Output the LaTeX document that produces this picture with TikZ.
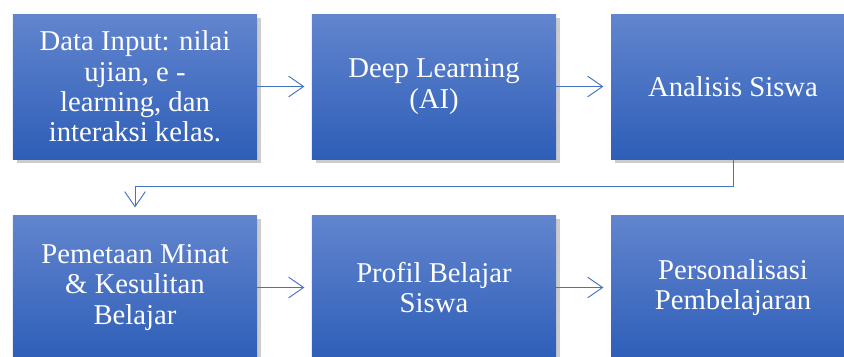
\documentclass[tikz,border=0pt]{standalone}
\usepackage{fontspec}
\setmainfont{Liberation Serif}
\newfontfamily\tnr{Liberation Serif}
\usetikzlibrary{shadows,arrows.meta}

\definecolor{boxtop}{RGB}{98,133,206}
\definecolor{boxbot}{RGB}{46,94,184}
\definecolor{linea}{RGB}{68,114,196}

\begin{document}
\begin{tikzpicture}[x=0.03cm, y=-0.03cm]
\tikzstyle{every node} = [font = \tnr\fontsize{24.5}{25.8}\selectfont]
\tikzstyle{blok} = [drop shadow={opacity=0.4, shadow xshift=3pt, shadow yshift=-3pt},
  top color=boxtop, bottom color=boxbot, text=white, align=center,
  minimum width=7.32cm, minimum height=4.35cm, inner sep=0pt]
\tikzstyle{panah} = [draw=linea, line width=0.8pt,
  -{Straight Barb[length=0.45cm, width=0.62cm, line width=0.8pt]}, shorten >=0.22cm]

\path[use as bounding box, clip] (0,0) rectangle (844,356);

% baris atas
\node[blok] (input) at (135, 86.5) {Data Input: nilai\\ujian, e -\\learning, dan\\interaksi kelas.};
\node[blok] (dl) at (434, 86.5) {Deep Learning\\(AI)};
\node[blok] (analisis) at (733, 86.5) {Analisis Siswa};

% baris bawah
\node[blok] (peta) at (135, 287.5) {Pemetaan Minat\\\& Kesulitan\\Belajar};
\node[blok] (profil) at (434, 287.5) {Profil Belajar\\Siswa};
\node[blok] (personal) at (733, 287.5) {Personalisasi\\Pembelajaran};

% panah
\draw[panah] (input) -- (dl);
\draw[panah] (dl) -- (analisis);
\draw[panah] (analisis.south) -- ++(0, 27) -| (peta.north);
\draw[panah] (peta) -- (profil);
\draw[panah] (profil) -- (personal);

\end{tikzpicture}
\end{document}
